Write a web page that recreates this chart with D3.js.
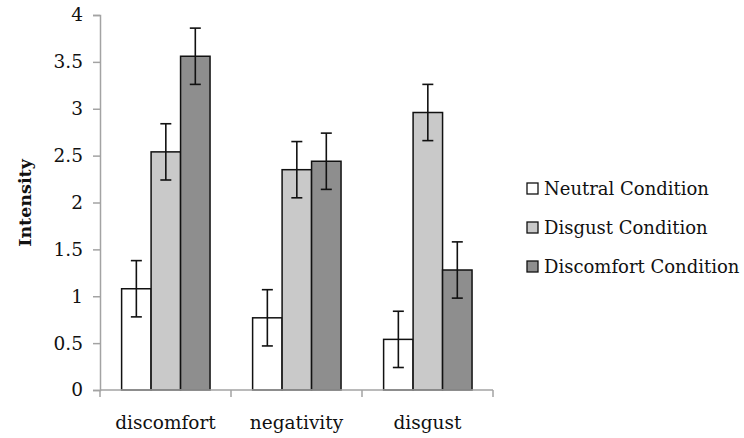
<!DOCTYPE html>
<html><head><meta charset="utf-8">
<script src="https://cdn.jsdelivr.net/npm/d3@7/dist/d3.min.js"></script>
<style>body{margin:0;background:#fff}</style>
</head><body>
<svg id="c" width="744" height="438"></svg>
<script>
const categories = ["discomfort", "negativity", "disgust"];
const seriesNames = ["Neutral Condition", "Disgust Condition", "Discomfort Condition"];
const neutralValues = [1.08, 0.77, 0.54];
const disgustValues = [2.54, 2.35, 2.96];
const discomfortValues = [3.56, 2.44, 1.28];
const neutralErr = [0.30, 0.30, 0.30];
const disgustErr = [0.30, 0.30, 0.30];
const discomfortErr = [0.30, 0.30, 0.30];
const yTicks = [0, 0.5, 1, 1.5, 2, 2.5, 3, 3.5, 4];
const yTickLabels = ["0", "0.5", "1", "1.5", "2", "2.5", "3", "3.5", "4"];
const colors = ["#ffffff", "#c9c9c9", "#8e8e8e"];

const values = [neutralValues, disgustValues, discomfortValues];
const errs = [neutralErr, disgustErr, discomfortErr];

const svg = d3.select("#c");
const font = "'DejaVu Serif', serif";
const axisColor = "#a3a3a3";

const x0 = d3.scaleBand().domain(categories).range([100, 493]).padding(0);
const bw = x0.bandwidth();
const x1 = d3.scaleBand().domain(seriesNames).range([bw * 0.165, bw * 0.84]).padding(0);
const y = d3.scaleLinear().domain([0, 4]).range([390, 15]);

// y axis
const yAxis = svg.append("g").attr("transform", "translate(100,0)")
  .call(d3.axisLeft(y).tickValues(yTicks).tickFormat((d, i) => yTickLabels[i]).tickSize(7).tickPadding(10));
yAxis.select(".domain").attr("stroke", axisColor).attr("stroke-width", 1.5);
yAxis.selectAll(".tick line").attr("stroke", axisColor).attr("stroke-width", 1.5);
yAxis.selectAll("text").attr("font-family", font).attr("font-size", 18.5).attr("fill", "#111");

// bars
const groups = svg.append("g").selectAll("g").data(categories).join("g")
  .attr("transform", d => `translate(${x0(d)},0)`);

seriesNames.forEach((s, si) => {
  groups.append("rect")
    .attr("x", x1(s))
    .attr("width", x1.bandwidth())
    .attr("y", (d, ci) => y(values[si][ci]))
    .attr("height", (d, ci) => y(0) - y(values[si][ci]))
    .attr("fill", colors[si])
    .attr("stroke", "#111")
    .attr("stroke-width", 1.5);
});

// x axis
svg.append("line").attr("x1", 100).attr("x2", 493).attr("y1", y(0)).attr("y2", y(0))
  .attr("stroke", axisColor).attr("stroke-width", 1.5);
const edges = categories.map(c => x0(c)).concat([x0(categories[categories.length - 1]) + bw]);
svg.append("g").selectAll("line").data(edges).join("line")
  .attr("x1", d => d).attr("x2", d => d).attr("y1", y(0)).attr("y2", y(0) + 7)
  .attr("stroke", axisColor).attr("stroke-width", 1.5);
svg.append("g").selectAll("text").data(categories).join("text")
  .attr("x", d => x0(d) + bw / 2).attr("y", 429)
  .attr("text-anchor", "middle").attr("font-family", font).attr("font-size", 18.5).attr("fill", "#111")
  .text(d => d);

// error bars
seriesNames.forEach((s, si) => {
  const g = groups.append("g").attr("stroke", "#111").attr("stroke-width", 1.6);
  const cx = x1(s) + x1.bandwidth() / 2;
  g.append("line").attr("x1", cx).attr("x2", cx)
    .attr("y1", (d, ci) => y(values[si][ci] + errs[si][ci]))
    .attr("y2", (d, ci) => y(values[si][ci] - errs[si][ci]));
  g.append("line").attr("x1", cx - 5.5).attr("x2", cx + 5.5)
    .attr("y1", (d, ci) => y(values[si][ci] + errs[si][ci]))
    .attr("y2", (d, ci) => y(values[si][ci] + errs[si][ci]));
  g.append("line").attr("x1", cx - 5.5).attr("x2", cx + 5.5)
    .attr("y1", (d, ci) => y(values[si][ci] - errs[si][ci]))
    .attr("y2", (d, ci) => y(values[si][ci] - errs[si][ci]));
});

// y title
svg.append("text").attr("transform", "translate(31,203) rotate(-90)")
  .attr("text-anchor", "middle").attr("font-family", font).attr("font-weight", "bold")
  .attr("font-size", 17.5).attr("fill", "#111").text("Intensity");

// legend
const leg = svg.append("g").selectAll("g").data(seriesNames).join("g")
  .attr("transform", (d, i) => `translate(527,${189 + i * 39})`);
leg.append("rect").attr("x", 0).attr("y", -6).attr("width", 11).attr("height", 11)
  .attr("fill", (d, i) => colors[i]).attr("stroke", "#111").attr("stroke-width", 1.3);
leg.append("text").attr("x", 17).attr("y", 0).attr("dy", "0.35em")
  .attr("font-family", font).attr("font-size", 18).attr("fill", "#111").text(d => d);
</script>
</body></html>
